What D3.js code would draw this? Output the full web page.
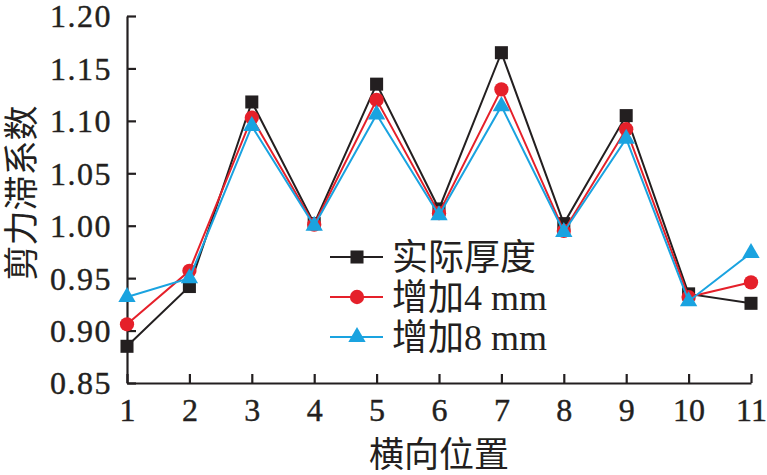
<!DOCTYPE html>
<html>
<head>
<meta charset="utf-8">
<script src="https://cdn.jsdelivr.net/npm/d3@7"></script>
<style>
  body { margin: 0; background: #fff; }
  svg text { font-family: "Liberation Serif", "Noto Sans CJK SC", serif; fill: #231f20; }
  .cjk { font-family: "Noto Sans CJK SC", sans-serif; }
</style>
</head>
<body>
<svg width="767" height="475"></svg>
<script>
var positions = [1, 2, 3, 4, 5, 6, 7, 8, 9, 10, 11]
var actualThk = [0.885, 0.942, 1.118, 1.002, 1.135, 1.016, 1.165, 1.002, 1.105, 0.935, 0.926]
var plus4mm = [0.906, 0.957, 1.103, 1.001, 1.120, 1.012, 1.130, 0.995, 1.092, 0.932, 0.946]
var plus8mm = [0.932, 0.950, 1.095, 1.000, 1.106, 1.010, 1.114, 0.994, 1.083, 0.928, 0.974]
var yTicks = [0.85, 0.90, 0.95, 1.00, 1.05, 1.10, 1.15, 1.20]
var seriesNames = ['实际厚度', '增加4 mm', '增加8 mm']

var borders = { top: 16, right: 16, bottom: 92, left: 127 }
var width = 767, height = 475

var svg = d3.select('svg')

var xScale = d3.scaleLinear()
  .domain([1, 11])
  .range([borders.left, width - borders.right])

var yScale = d3.scaleLinear()
  .domain([0.85, 1.20])
  .range([height - borders.bottom, borders.top])

// axes, ticks pointing inward
var xAxis = svg.append('g')
  .attr('class', 'bottomAxis')
  .attr('transform', 'translate(0,' + (height - borders.bottom) + ')')
  .call(d3.axisBottom(xScale).tickValues(positions).tickSizeInner(-9).tickSizeOuter(0).tickPadding(15).tickFormat(d3.format('d')))

var yAxis = svg.append('g')
  .attr('class', 'leftAxis')
  .attr('transform', 'translate(' + borders.left + ',0)')
  .call(d3.axisLeft(yScale).tickValues(yTicks).tickSizeInner(-9).tickSizeOuter(0).tickPadding(15).tickFormat(d3.format('.2f')))

svg.selectAll('.domain, .tick line').attr('stroke', '#231f20').attr('stroke-width', 2.2)
svg.selectAll('.tick text')
  .attr('font-size', '32px')
  .attr('font-family', '"Liberation Serif", serif')
  .attr('fill', '#231f20')
  .attr('stroke', '#231f20')
  .attr('stroke-width', 0.4)
yAxis.selectAll('.tick text').attr('dy', '0.34em').attr('letter-spacing', '1.5px')

// series
var series = [
  { name: seriesNames[0], values: actualThk, color: '#231f20', shape: d3.symbolSquare, size: 170 },
  { name: seriesNames[1], values: plus4mm, color: '#e5202a', shape: d3.symbolCircle, size: 160 },
  { name: seriesNames[2], values: plus8mm, color: '#1aa3e0', shape: d3.symbolTriangle, size: 130 }
]

var line = d3.line()
  .x(function(d, i) { return xScale(positions[i]) })
  .y(function(d) { return yScale(d) })

series.forEach(function(s) {
  svg.append('path')
    .datum(s.values)
    .attr('d', line)
    .attr('fill', 'none')
    .attr('stroke', s.color)
    .attr('stroke-width', 2)
  svg.append('g').selectAll('path')
    .data(s.values)
    .enter()
    .append('path')
    .attr('d', d3.symbol().type(s.shape).size(s.size))
    .attr('fill', s.color)
    .attr('transform', function(d, i) { return 'translate(' + xScale(positions[i]) + ',' + yScale(d) + ')' })
})

// legend
var legend = svg.append('g').attr('transform', 'translate(330,257)')
series.forEach(function(s, i) {
  var row = legend.append('g').attr('transform', 'translate(0,' + (i * 40) + ')')
  row.append('line')
    .attr('x1', 0).attr('x2', 53).attr('y1', 0).attr('y2', 0)
    .attr('stroke', s.color).attr('stroke-width', 2)
  row.append('path')
    .attr('d', d3.symbol().type(s.shape).size(s.size))
    .attr('fill', s.color)
    .attr('transform', 'translate(27,0)')
  row.append('text')
    .attr('x', 62)
    .attr('y', 0)
    .attr('dy', '0.36em')
    .attr('font-size', '36px')
    .text(s.name)
})

// axis titles
svg.append('text')
  .attr('class', 'cjk')
  .attr('text-anchor', 'middle')
  .attr('font-size', '35px')
  .attr('transform', 'translate(' + ((borders.left + width - borders.right) / 2) + ',' + (height - 8) + ')')
  .text('横向位置')

svg.append('text')
  .attr('class', 'cjk')
  .attr('text-anchor', 'middle')
  .attr('font-size', '35px')
  .attr('transform', 'translate(34,' + 193 + ')rotate(-90)')
  .text('剪力滞系数')
</script>
</body>
</html>
